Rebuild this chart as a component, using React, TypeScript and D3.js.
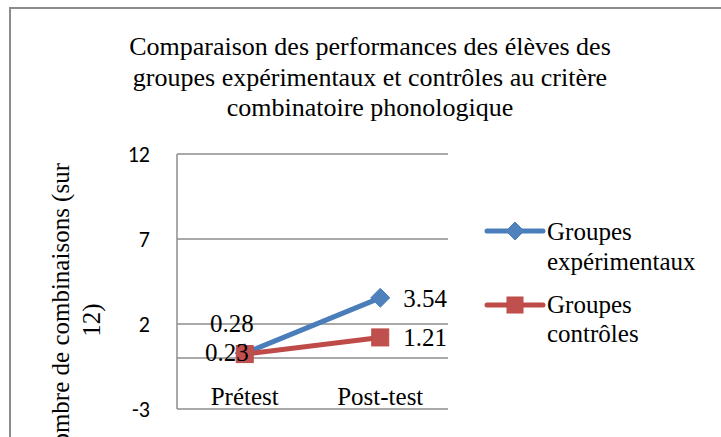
import React from 'react'
import * as d3 from 'd3'

const categories = ['Prétest', 'Post-test']
const experimentaux = [0.28, 3.54]
const controles = [0.23, 1.21]
const yTicks = [-3, 2, 7, 12]
const titleLines = [
  'Comparaison des performances des élèves des',
  'groupes expérimentaux et contrôles au critère',
  'combinatoire phonologique',
]

const serif = 'Liberation Serif'
const sans = 'Carlito'

const blue = '#4A7EBB'
const blueFill = '#4F81BD'
const red = '#BE4B48'
const redFill = '#C0504D'

const App = () => {
  const W = 721
  const H = 437
  const plot = { left: 177, right: 448, top: 154, bottom: 409 }

  const x = d3
    .scaleBand<string>()
    .domain(categories)
    .range([plot.left, plot.right])
  const y = d3.scaleLinear().domain([-3, 12]).range([plot.bottom, plot.top])
  const cx = (c: string) => (x(c) as number) + x.bandwidth() / 2

  const line = d3
    .line<number>()
    .x((d, i) => cx(categories[i]))
    .y((d) => y(d))

  const diamond = (px: number, py: number, r: number) =>
    `M${px},${py - r}L${px + r},${py}L${px},${py + r}L${px - r},${py}Z`

  return (
    <svg
      width={W}
      height={H}
      style={{ position: 'fixed', left: 0, top: 0, background: '#fff' }}
    >
      <rect x={10} y={8} width={W} height={H} fill="#fff" stroke="#8c8c8c" strokeWidth={2} />

      {/* title */}
      <text style={{ fontFamily: serif }} fontSize={26} fill="#000" textAnchor="middle">
        {titleLines.map((t, i) => (
          <tspan key={i} x={370} y={55 + i * 30.5}>
            {t}
          </tspan>
        ))}
      </text>

      {/* grid lines */}
      {yTicks.map((t) => (
        <line
          key={t}
          x1={plot.left}
          x2={plot.right}
          y1={y(t)}
          y2={y(t)}
          stroke="#8c8c8c"
          strokeWidth={1.5}
        />
      ))}
      <line x1={plot.left} x2={plot.right} y1={y(0)} y2={y(0)} stroke="#8c8c8c" strokeWidth={1.5} />
      <line x1={plot.left} x2={plot.left} y1={plot.top} y2={plot.bottom} stroke="#8c8c8c" strokeWidth={1.5} />

      {/* y tick labels */}
      {yTicks.map((t) => (
        <text
          key={t}
          x={150}
          y={y(t)}
          dy="0.36em"
          textAnchor="end"
          style={{ fontFamily: sans }}
          fontSize={22}
          fill="#000"
        >
          {t}
        </text>
      ))}

      {/* y axis title */}
      <text
        transform={`translate(69,163) rotate(-90)`}
        textAnchor="end"
        style={{ fontFamily: serif }}
        fontSize={25}
        fill="#000"
      >
        Nombre de combinaisons (sur
      </text>
      <text
        transform={`translate(100,320) rotate(-90)`}
        textAnchor="middle"
        style={{ fontFamily: serif }}
        fontSize={25}
        fill="#000"
      >
        12)
      </text>

      {/* category labels */}
      {categories.map((c) => (
        <text
          key={c}
          x={cx(c)}
          y={405}
          textAnchor="middle"
          style={{ fontFamily: serif }}
          fontSize={25}
          fill="#000"
        >
          {c}
        </text>
      ))}

      {/* series */}
      <path d={line(experimentaux) ?? ''} fill="none" stroke={blue} strokeWidth={5} strokeLinecap="round" />
      <path d={line(controles) ?? ''} fill="none" stroke={red} strokeWidth={5} strokeLinecap="round" />
      {experimentaux.map((v, i) => (
        <path key={i} d={diamond(cx(categories[i]), y(v), 9.5)} fill={blueFill} stroke={blue} strokeWidth={1} />
      ))}
      {controles.map((v, i) => (
        <rect
          key={i}
          x={cx(categories[i]) - 8.5}
          y={y(v) - 8.5}
          width={17}
          height={17}
          fill={redFill}
          stroke={red}
          strokeWidth={1}
        />
      ))}

      {/* data labels */}
      <text style={{ fontFamily: serif }} fontSize={25} fill="#000">
        <tspan x={cx(categories[0]) - 13} y={y(experimentaux[0]) - 30} dy="0.35em" textAnchor="middle">
          {experimentaux[0].toFixed(2)}
        </tspan>
        <tspan x={cx(categories[1]) + 23} y={y(experimentaux[1])} dy="0.35em">
          {experimentaux[1].toFixed(2)}
        </tspan>
        <tspan x={cx(categories[0]) - 18} y={y(controles[0]) - 2} dy="0.35em" textAnchor="middle">
          {controles[0].toFixed(2)}
        </tspan>
        <tspan x={cx(categories[1]) + 23} y={y(controles[1])} dy="0.35em">
          {controles[1].toFixed(2)}
        </tspan>
      </text>

      {/* legend */}
      <g>
        <line x1={487} x2={543} y1={231} y2={231} stroke={blue} strokeWidth={5} strokeLinecap="round" />
        <path d={diamond(515, 231, 9)} fill={blueFill} stroke={blue} strokeWidth={1} />
        <text style={{ fontFamily: serif }} fontSize={25} fill="#000">
          <tspan x={547} y={240}>Groupes</tspan>
          <tspan x={547} y={270}>expérimentaux</tspan>
        </text>
        <line x1={487} x2={543} y1={305} y2={305} stroke={red} strokeWidth={5} strokeLinecap="round" />
        <rect x={507} y={297} width={16} height={16} fill={redFill} stroke={red} strokeWidth={1} />
        <text style={{ fontFamily: serif }} fontSize={25} fill="#000">
          <tspan x={547} y={313}>Groupes</tspan>
          <tspan x={547} y={342}>contrôles</tspan>
        </text>
      </g>
    </svg>
  )
}

export default App
